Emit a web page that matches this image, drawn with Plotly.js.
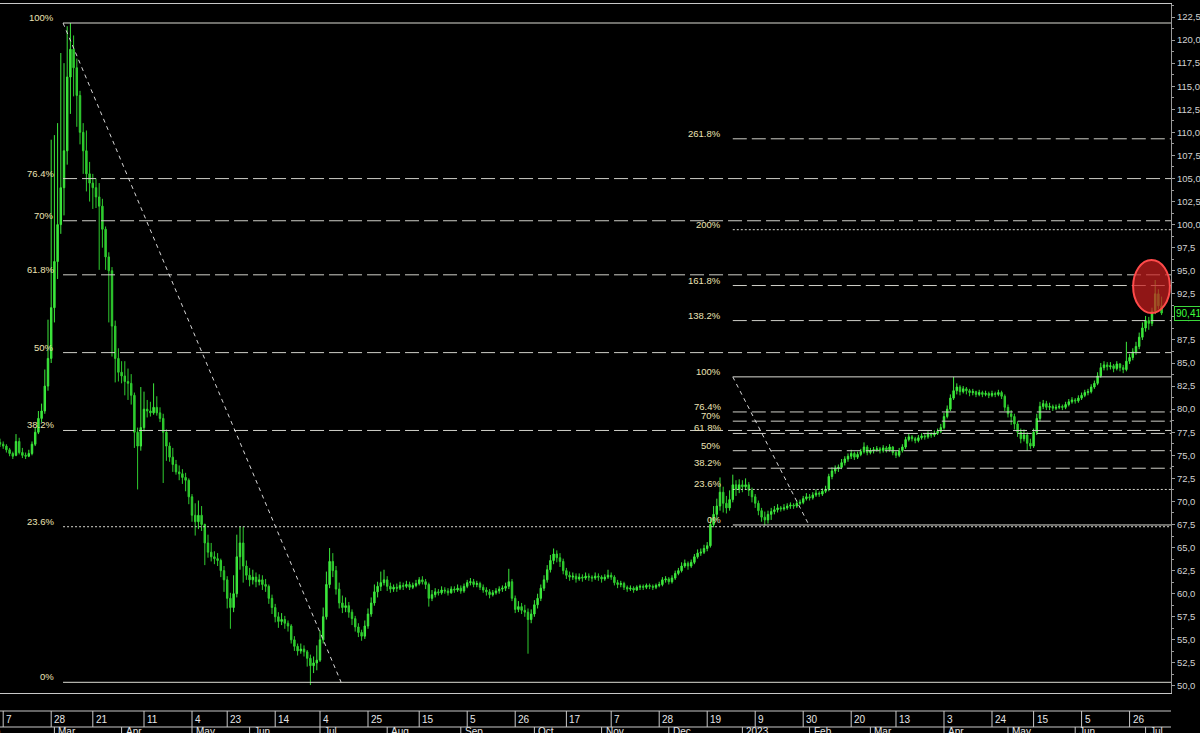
<!DOCTYPE html>
<html>
<head>
<meta charset="utf-8">
<script src="https://cdn.plot.ly/plotly-3.0.1.min.js"></script>
<style>
  html, body { margin: 0; padding: 0; background: #000; }
  #chart { width: 1200px; height: 733px; }
</style>
</head>
<body>
<div id="chart"></div>
<script>
// ---------------- DATA ----------------
const open = [
76.4,76.2,76.0,75.6,75.2,75.0,76.5,75.3,75.0,74.9,
75.2,76.2,77.5,79.0,79.8,82.5,85.5,91.0,96.0,100.0,
104.0,108.0,116.0,119.0,117.0,114.0,110.0,108.0,105.5,104.5,
104.0,103.0,102.0,99.5,96.5,95.0,89.0,85.5,84.0,83.6,
83.0,82.8,81.5,77.5,76.0,78.0,80.0,79.8,79.6,80.2,
79.6,79.0,77.5,76.0,74.8,74.0,73.2,73.0,72.6,72.3,
70.5,68.5,67.8,68.5,67.5,65.5,64.5,64.0,63.8,63.6,
62.5,61.5,59.5,58.5,60.0,64.0,65.5,63.0,62.0,61.5,
61.8,61.3,61.5,61.0,60.8,59.5,58.5,57.5,57.0,57.2,
56.8,56.5,55.0,54.3,53.8,54.0,53.7,53.0,52.2,52.5,
52.8,55.0,57.5,61.0,63.5,62.5,60.5,59.0,58.5,58.7,
58.0,57.3,56.4,55.8,55.4,56.5,57.8,59.0,60.2,60.8,
61.2,61.5,60.8,60.5,60.7,60.6,60.9,60.8,61.0,60.7,
60.9,61.1,61.5,61.3,61.0,59.5,59.9,60.2,60.1,60.4,
60.3,60.1,60.5,60.4,60.6,60.3,60.8,61.2,61.3,61.0,
61.1,60.7,60.4,60.2,59.9,60.1,60.3,60.5,60.6,60.8,
61.3,59.5,58.3,58.6,58.2,58.0,57.2,57.8,58.8,59.5,
60.6,61.5,62.6,63.6,64.3,63.9,63.5,62.5,62.0,61.8,
61.9,61.6,61.8,61.7,61.9,61.8,61.7,61.9,61.8,61.6,
61.8,62.0,61.8,61.2,61.0,61.1,60.7,60.5,60.6,60.4,
60.7,60.8,60.7,60.9,60.8,60.7,60.9,61.0,61.5,61.6,
61.3,61.7,62.2,62.5,63.0,63.3,63.0,63.4,64.0,64.4,
64.5,64.9,65.2,67.5,68.6,69.5,71.0,69.8,69.3,70.2,
71.8,71.3,71.8,71.6,71.8,71.2,70.5,69.8,69.0,68.3,
68.0,68.6,68.9,69.1,69.3,69.2,69.3,69.5,69.6,69.5,
69.8,69.9,70.3,70.5,70.4,70.7,70.9,70.8,71.1,71.3,
72.7,73.3,73.6,73.7,74.2,74.6,74.9,75.2,74.8,75.1,
75.4,75.9,75.3,75.5,75.6,75.7,75.5,75.8,75.6,75.9,
75.3,75.0,75.5,75.9,76.7,77.0,76.8,76.6,76.9,77.1,
77.0,77.3,77.2,77.4,77.6,78.0,79.2,80.0,81.2,82.0,
82.4,81.9,82.2,82.0,81.8,81.9,81.6,81.8,81.6,81.7,
81.5,81.7,81.6,81.8,81.4,80.2,79.5,79.2,78.4,77.5,
76.8,77.2,76.3,76.0,77.5,79.0,80.3,80.6,80.2,80.3,
80.1,80.2,80.3,80.2,80.5,80.8,81.0,80.9,81.2,81.5,
81.8,81.9,82.4,82.8,83.6,84.5,84.8,84.6,84.7,84.4,
84.9,84.5,84.3,85.2,85.6,86.2,86.8,87.8,88.8,89.6,
89.3,90.6,92.5,91.2
];
const high = [
76.8,76.5,76.2,75.8,75.4,77.3,76.9,75.8,75.3,75.6,
76.5,78.0,79.8,80.6,84.3,89.7,109.2,109.7,111.0,118.6,
117.5,121.5,121.85,120.5,118.0,114.5,111.0,110.2,106.8,105.5,
105.0,104.5,102.8,99.8,97.0,95.4,89.6,86.6,85.2,85.2,
84.4,83.8,81.8,78.0,82.4,81.9,81.0,80.8,82.8,81.4,
80.2,79.5,77.8,76.4,75.8,74.5,73.9,73.5,73.1,72.5,
70.8,69.8,70.1,69.5,67.6,66.4,65.5,64.6,64.4,63.8,
63.0,61.9,60.1,62.0,66.4,67.3,67.3,63.6,62.8,62.6,
62.3,62.1,62.0,61.6,61.0,59.9,58.9,58.0,57.9,57.6,
57.1,56.7,55.4,54.6,54.6,54.4,53.9,53.4,53.2,54.4,
56.0,58.5,62.4,64.95,64.4,63.0,61.2,59.8,59.6,59.1,
58.3,57.6,56.8,56.1,57.1,58.4,59.6,61.0,61.3,62.4,
62.6,61.9,61.2,61.0,61.1,61.3,61.2,61.4,61.3,61.2,
61.5,61.8,61.9,61.6,61.2,60.4,60.6,60.5,60.8,60.7,
60.6,60.8,60.8,61.0,60.9,61.1,61.5,61.7,61.6,61.4,
61.3,61.0,60.7,60.5,60.4,60.6,60.8,60.9,61.2,62.7,
61.6,59.8,59.2,59.0,58.8,58.4,58.3,59.3,60.0,61.0,
62.0,63.1,64.2,64.9,64.7,64.4,63.8,62.8,62.4,62.3,
62.2,62.2,62.1,62.3,62.2,62.0,62.3,62.2,62.0,62.1,
62.6,62.3,62.0,61.5,61.4,61.3,60.9,60.9,60.8,60.9,
61.0,61.0,61.1,61.1,61.0,61.1,61.3,61.8,61.9,61.8,
62.0,62.5,62.8,63.4,63.7,63.5,63.7,64.3,64.8,64.9,
65.3,65.6,68.2,69.5,70.3,72.6,71.6,70.6,71.2,72.9,
72.3,72.4,72.3,72.5,72.1,71.5,70.8,70.1,69.3,68.9,
69.0,69.3,69.5,69.7,69.5,69.7,69.8,69.9,69.8,70.1,
70.2,70.6,70.9,70.8,71.0,71.3,71.1,71.4,71.7,73.0,
73.7,73.9,74.0,74.6,74.9,75.2,75.6,75.4,75.4,75.7,
76.4,76.1,75.8,75.9,76.0,75.9,76.1,76.0,76.2,76.0,
75.5,75.8,76.2,77.0,77.4,77.2,77.0,77.2,77.4,77.3,
77.6,77.5,77.7,77.9,78.4,79.6,80.4,81.6,83.5,82.8,
82.6,82.5,82.4,82.2,82.2,82.0,82.1,82.0,82.0,81.9,
82.0,81.9,82.1,82.0,81.6,80.5,79.9,79.5,78.7,77.9,
77.8,77.5,76.8,77.9,79.5,80.8,81.0,80.9,80.7,80.5,
80.5,80.6,80.5,80.8,81.1,81.3,81.2,81.5,81.8,82.1,
82.2,82.7,83.1,84.0,85.0,85.2,85.1,85.1,84.9,85.2,
85.0,84.8,87.3,86.0,86.6,87.3,88.3,89.4,90.1,90.0,
91.0,94.0,93.0,92.2
];
const low = [
75.9,75.7,75.3,74.9,74.6,74.9,75.1,74.7,74.6,74.8,
75.0,76.0,77.3,78.6,79.5,82.0,85.0,89.4,94.1,99.0,
101.0,106.5,112.0,113.9,110.6,108.7,105.5,103.6,102.5,101.7,
101.8,95.1,97.5,95.1,89.4,85.7,82.9,83.0,82.8,81.5,
81.0,80.5,75.8,71.3,75.5,77.6,79.1,79.2,79.4,79.3,
78.6,72.0,74.4,74.3,73.2,72.9,72.3,71.9,71.1,69.7,
67.8,66.3,67.0,66.8,63.1,63.9,63.5,63.2,63.0,61.8,
60.2,58.4,56.2,58.0,59.6,62.6,61.2,61.5,60.8,61.0,
60.7,60.9,60.4,60.2,58.9,57.8,56.9,56.3,56.6,56.2,
55.9,54.6,53.8,53.3,53.5,53.2,52.1,50.1,51.4,51.7,
52.6,54.6,57.2,60.6,61.8,59.9,58.4,57.9,58.0,57.4,
56.6,55.9,55.3,54.9,55.1,56.2,57.5,58.7,59.6,60.3,
60.9,60.3,60.1,60.2,60.2,60.4,60.4,60.6,60.4,60.5,
60.7,60.9,61.0,60.5,58.6,59.2,59.6,59.8,59.9,60.0,
59.8,60.0,60.1,60.2,60.0,60.1,60.6,60.9,60.7,60.7,
60.4,60.1,59.8,59.5,59.7,59.9,60.0,60.2,60.3,60.5,
59.2,57.9,58.0,57.8,57.5,53.5,56.8,57.5,58.4,59.2,
60.3,61.2,62.3,63.2,63.4,62.9,62.1,61.6,61.4,61.5,
61.2,61.4,61.3,61.5,61.4,61.3,61.5,61.4,61.2,61.4,
61.6,61.5,60.9,60.6,60.7,60.4,60.2,60.3,60.1,60.3,
60.4,60.4,60.5,60.5,60.4,60.5,60.7,60.8,61.2,61.0,
61.1,61.5,62.0,62.3,62.8,62.6,62.8,63.2,63.8,64.1,
64.3,64.6,65.0,67.2,68.0,69.0,68.8,68.7,69.0,69.9,
70.6,70.9,71.0,71.3,70.6,69.9,69.3,68.5,67.8,67.4,
67.6,68.0,68.6,68.8,68.9,69.0,69.1,69.2,69.2,69.3,
69.6,69.7,70.1,70.1,70.2,70.5,70.5,70.6,70.9,71.1,
72.4,73.0,73.2,73.5,73.9,74.3,74.6,74.5,74.6,74.9,
75.2,75.0,75.1,75.2,75.4,75.2,75.3,75.3,75.4,75.0,
74.7,74.8,75.3,75.7,76.5,76.5,76.3,76.4,76.7,76.7,
76.8,76.9,77.0,77.2,77.4,77.8,79.0,79.8,81.0,81.6,
81.5,81.7,81.6,81.4,81.5,81.3,81.4,81.3,81.4,81.2,
81.3,81.3,81.4,81.1,79.8,79.1,78.3,77.8,77.0,76.3,
76.5,75.5,75.7,75.8,77.2,78.7,80.0,79.9,79.9,79.8,
79.9,80.0,79.9,80.0,80.3,80.6,80.6,80.7,81.0,81.3,
81.5,81.7,82.2,82.6,83.4,84.2,84.2,84.3,84.0,84.2,
84.1,83.9,84.1,84.9,85.3,85.9,86.5,87.5,88.4,88.6,
89.0,90.3,90.8,90.2
];
const close = [
76.2,76.0,75.6,75.2,74.9,76.5,75.3,75.0,74.9,75.2,
76.2,77.5,79.0,79.8,82.5,85.5,91.0,96.0,100.0,104.0,
108.0,116.0,119.0,117.0,114.0,110.0,108.0,105.5,104.5,104.0,
103.0,102.0,99.5,96.5,95.0,89.0,85.5,84.0,83.6,83.0,
82.8,81.5,77.5,76.0,78.0,80.0,79.8,79.6,80.2,79.6,
79.0,77.5,76.0,74.8,74.0,73.2,73.0,72.6,72.3,70.5,
68.5,67.8,68.5,67.5,65.5,64.5,64.0,63.8,63.6,62.5,
61.5,59.5,58.5,60.0,64.0,65.5,63.0,62.0,61.5,61.8,
61.3,61.5,61.0,60.8,59.5,58.5,57.5,57.0,57.2,56.8,
56.5,55.0,54.3,53.8,54.0,53.7,53.0,52.2,52.5,52.8,
55.0,57.5,61.0,63.5,62.5,60.5,59.0,58.5,58.7,58.0,
57.3,56.4,55.8,55.4,56.5,57.8,59.0,60.2,60.8,61.2,
61.5,60.8,60.5,60.7,60.6,60.9,60.8,61.0,60.7,60.9,
61.1,61.5,61.3,61.0,59.5,59.9,60.2,60.1,60.4,60.3,
60.1,60.5,60.4,60.6,60.3,60.8,61.2,61.3,61.0,61.1,
60.7,60.4,60.2,59.9,60.1,60.3,60.5,60.6,60.8,61.3,
59.5,58.3,58.6,58.2,58.0,57.2,57.8,58.8,59.5,60.6,
61.5,62.6,63.6,64.3,63.9,63.5,62.5,62.0,61.8,61.9,
61.6,61.8,61.7,61.9,61.8,61.7,61.9,61.8,61.6,61.8,
62.0,61.8,61.2,61.0,61.1,60.7,60.5,60.6,60.4,60.7,
60.8,60.7,60.9,60.8,60.7,60.9,61.0,61.5,61.6,61.3,
61.7,62.2,62.5,63.0,63.3,63.0,63.4,64.0,64.4,64.5,
64.9,65.2,67.5,68.6,69.5,71.0,69.8,69.3,70.2,71.8,
71.3,71.8,71.6,71.8,71.2,70.5,69.8,69.0,68.3,68.0,
68.6,68.9,69.1,69.3,69.2,69.3,69.5,69.6,69.5,69.8,
69.9,70.3,70.5,70.4,70.7,70.9,70.8,71.1,71.3,72.7,
73.3,73.6,73.7,74.2,74.6,74.9,75.2,74.8,75.1,75.4,
75.9,75.3,75.5,75.6,75.7,75.5,75.8,75.6,75.9,75.3,
75.0,75.5,75.9,76.7,77.0,76.8,76.6,76.9,77.1,77.0,
77.3,77.2,77.4,77.6,78.0,79.2,80.0,81.2,82.0,82.4,
81.9,82.2,82.0,81.8,81.9,81.6,81.8,81.6,81.7,81.5,
81.7,81.6,81.8,81.4,80.2,79.5,79.2,78.4,77.5,76.8,
77.2,76.3,76.0,77.5,79.0,80.3,80.6,80.2,80.3,80.1,
80.2,80.3,80.2,80.5,80.8,81.0,80.9,81.2,81.5,81.8,
81.9,82.4,82.8,83.6,84.5,84.8,84.6,84.7,84.4,84.9,
84.5,84.3,85.2,85.6,86.2,86.8,87.8,88.8,89.6,89.3,
90.6,92.5,91.2,90.415
];
const lastPriceText = '90,415';

// Fibonacci tools (levels in price units)
const fibLeftPct   = ['100%','76.4%','70%','61.8%','50%','38.2%','23.6%','0%'];
const fibLeftPrice = [121.85,104.99,100.42,94.56,86.13,77.69,67.26,50.4];
const fibRightPct   = ['100%','76.4%','70%','61.8%','50%','38.2%','23.6%','0%','138.2%','161.8%','200%','261.8%'];
const fibRightPrice = [83.5,79.7,78.7,77.37,75.5,73.6,71.3,67.45,89.6,93.4,99.45,109.3];

// bar-index anchors of the two fib tools (start bar, trend end bar)
const fibLeftAnchor  = [19.7, 106.6];
const fibRightAnchor = [229.0, 252.8];

// highlighted zone (bar index from/to, price from/to)
const zone = [354.1, 365.6, 90.42, 96.17];

// time axis labels (bar index of each tick)
const dayTickIdx  = [1,16,29,45,60,71,86,100,115,131,146,161,177,191,206,221,236,251,266,280,295,310,323,338,353];
const dayTickText = ['7','28','21','11','4','23','14','4','25','15','5','26','17','7','28','19','9','30','20','13','3','24','15','5','26'];
const monthIdx  = [17,38,60,78,100,121,144,167,188,209,232,253,272,295,315,336,358];
const monthText = ['Mar','Apr','May','Jun','Jul','Aug','Sep','Oct','Nov','Dec','2023','Feb','Mar','Apr','May','Jun','Jul'];
const firstMonthText = 'Feb';

// price axis labels
const yTickVals = [50,52.5,55,57.5,60,62.5,65,67.5,70,72.5,75,77.5,80,82.5,85,87.5,90,92.5,95,97.5,100,102.5,105,107.5,110,112.5,115,117.5,120,122.5];
const yTickText = ['50,0','52,5','55,0','57,5','60,0','62,5','65,0','67,5','70,0','72,5','75,0','77,5','80,0','82,5','85,0','87,5','90,0','92,5','95,0','97,5','100,0','102,5','105,0','107,5','110,0','112,5','115,0','117,5','120,0','122,5'];

// ---------------- CHART ----------------
const xs = close.map((_, i) => i);
const X_MAX = 365.94;
const FONT = 'Liberation Sans, Arial, sans-serif';
const LABEL_COL = '#ece3b5';

function styleFor(pct) {
  if (pct === '100%' || pct === '0%') return {color: '#dcdcd4', width: 1, dash: 'solid'};
  if (pct === '23.6%' || pct === '200%') return {color: '#d8d8d0', width: 1, dash: '2px,2px'};
  return {color: '#cfcfc8', width: 1, dash: '14px,5px'};
}

const shapes = [];
const annotations = [];

function addFib(pcts, prices, anchor, labelIdx) {
  pcts.forEach((p, k) => {
    shapes.push({type: 'line', xref: 'x', yref: 'y', x0: anchor[0], x1: X_MAX, y0: prices[k], y1: prices[k],
      line: styleFor(p), layer: 'above'});
    annotations.push({xref: 'x', yref: 'y', x: labelIdx, y: prices[k], text: p, showarrow: false,
      xanchor: 'right', yanchor: 'bottom', yshift: -2, font: {family: FONT, size: 9.5, color: LABEL_COL}});
  });
  shapes.push({type: 'line', xref: 'x', yref: 'y', x0: anchor[0], x1: anchor[1],
    y0: prices[0], y1: prices[pcts.indexOf('0%')], line: {color: '#d6d6d6', width: 1, dash: '4px,4px'}, layer: 'above'});
}
addFib(fibLeftPct, fibLeftPrice, fibLeftAnchor, 17.6);
addFib(fibRightPct, fibRightPrice, fibRightAnchor, 226.0);

// highlighted zone
shapes.push({type: 'circle', xref: 'x', yref: 'y', x0: zone[0], x1: zone[1], y0: zone[2], y1: zone[3],
  fillcolor: 'rgba(200,30,30,0.72)', line: {color: '#ff4a4a', width: 2}, layer: 'above'});

// time axis rows (paper y: plot spans pixels 4..693)
const py = p => (693 - p) / 689;
const rowTop = py(711), rowMid = py(727), rowBot = py(736);
shapes.push({type: 'line', xref: 'paper', yref: 'paper', x0: 0, x1: 1, y0: rowTop, y1: rowTop, line: {color: '#c8c8c8', width: 1}});
shapes.push({type: 'line', xref: 'paper', yref: 'paper', x0: 0, x1: 1, y0: rowMid, y1: rowMid, line: {color: '#c8c8c8', width: 1}});
dayTickIdx.forEach((ix, k) => {
  shapes.push({type: 'line', xref: 'x', yref: 'paper', x0: ix, x1: ix, y0: rowTop, y1: rowMid, line: {color: '#c8c8c8', width: 1}});
  annotations.push({xref: 'x', yref: 'paper', x: ix, y: py(719), text: dayTickText[k], showarrow: false,
    xanchor: 'left', yanchor: 'middle', xshift: 1, font: {family: FONT, size: 10, color: '#e6e6e6'}});
});
monthIdx.forEach((ix, k) => {
  shapes.push({type: 'line', xref: 'x', yref: 'paper', x0: ix, x1: ix, y0: rowMid, y1: rowBot, line: {color: '#c8c8c8', width: 1}});
  annotations.push({xref: 'x', yref: 'paper', x: ix, y: py(724.5), text: monthText[k], showarrow: false,
    xanchor: 'left', yanchor: 'top', xshift: 2, font: {family: FONT, size: 10, color: '#e6e6e6'}});
});
annotations.push({xref: 'x', yref: 'paper', x: 1, y: py(724.5), text: firstMonthText, showarrow: false,
  xanchor: 'right', yanchor: 'top', font: {family: FONT, size: 10, color: '#e6e6e6'}});

// last price tag
annotations.push({xref: 'paper', yref: 'y', x: 1, y: close[close.length - 1], text: lastPriceText, showarrow: false,
  xanchor: 'left', yanchor: 'middle', xshift: 3, bgcolor: '#000', bordercolor: '#3cd83c', borderwidth: 1, borderpad: 1,
  font: {family: FONT, size: 10, color: '#3cff3c'}});

const trace = {
  type: 'candlestick', x: xs, open: open, high: high, low: low, close: close,
  increasing: {line: {color: '#3ce83c', width: 1}, fillcolor: '#3ce83c'},
  decreasing: {line: {color: '#2fcc2f', width: 1}, fillcolor: '#2fcc2f'},
  whiskerwidth: 0, hoverinfo: 'skip'
};

const layout = {
  width: 1200, height: 733,
  paper_bgcolor: '#000', plot_bgcolor: '#000',
  margin: {l: 0, r: 29, t: 4, b: 40, pad: 0},
  showlegend: false,
  boxgap: 0.35,
  xaxis: {range: [0, X_MAX], type: 'linear', showgrid: false, zeroline: false, showticklabels: false, ticks: '',
    showline: true, linecolor: '#c8c8c8', linewidth: 1, mirror: true, rangeslider: {visible: false}, fixedrange: true},
  yaxis: {side: 'right', range: [49.24, 123.91], tickmode: 'array', tickvals: yTickVals, ticktext: yTickText,
    ticks: 'outside', ticklen: 3, tickcolor: '#9a9a9a', showline: true, linecolor: '#9a9a9a', linewidth: 1,
    showgrid: false, zeroline: false, fixedrange: true, ticklabelstandoff: 0,
    tickfont: {family: FONT, size: 9.5, color: '#d2d2d2'},
    minor: {tickmode: 'linear', tick0: 51.25, dtick: 2.5, ticks: 'outside', ticklen: 2, tickcolor: '#9a9a9a', showgrid: false}},
  shapes: shapes,
  annotations: annotations
};

Plotly.newPlot('chart', [trace], layout, {staticPlot: true, displayModeBar: false});
</script>
</body>
</html>
